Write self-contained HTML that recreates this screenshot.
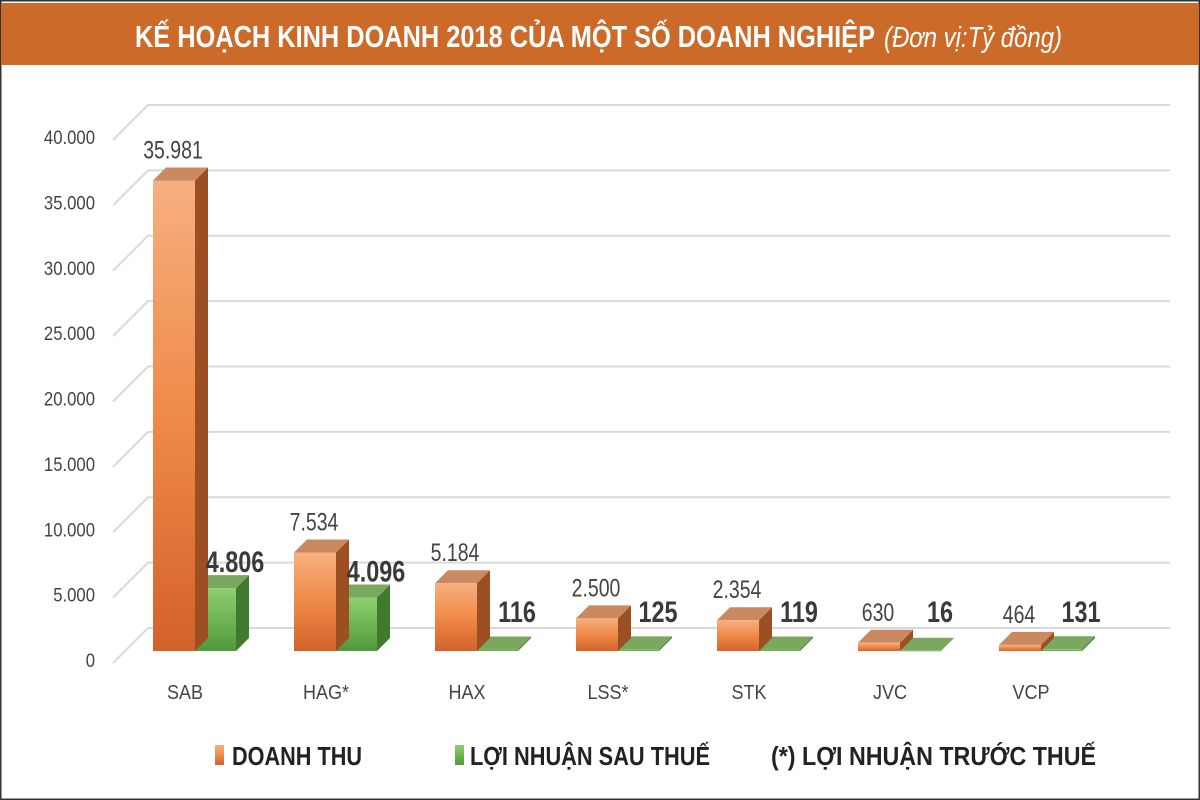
<!DOCTYPE html>
<html><head><meta charset="utf-8"><style>
html,body{margin:0;padding:0;background:#fff;}
#wrap{position:relative;width:1200px;height:800px;overflow:hidden;font-family:"Liberation Sans",sans-serif;}
</style></head><body>
<div id="wrap">
<svg id="chart" width="1200" height="800" viewBox="0 0 1200 800">
<defs>
<linearGradient id="gOr" x1="0" y1="0" x2="0" y2="1"><stop offset="0" stop-color="#f6b080"/><stop offset="0.5" stop-color="#ef8a48"/><stop offset="1" stop-color="#d2622a"/></linearGradient>
<linearGradient id="gGr" x1="0" y1="0" x2="0" y2="1"><stop offset="0" stop-color="#8fcf6f"/><stop offset="1" stop-color="#4f9a3a"/></linearGradient>
</defs>
<rect x="0.5" y="0.5" width="1199" height="799" fill="#fff" stroke="#333" stroke-width="2"/>
<rect x="1" y="3" width="1198" height="62" fill="#cc6a2a"/>
<text x="135" y="47" fill="#fff" font-size="31" font-weight="bold" textLength="740" lengthAdjust="spacingAndGlyphs">KẾ HOẠCH KINH DOANH 2018 CỦA MỘT SỐ DOANH NGHIỆP</text>
<text x="884" y="47" fill="#fff" font-size="29" font-style="italic" textLength="178" lengthAdjust="spacingAndGlyphs">(Đơn vị:Tỷ đồng)</text>
<g id="grid"></g><g id="bars"></g><g id="labels"></g>
<g>
<rect x="215" y="745" width="9" height="20" fill="url(#gOr)"/>
<text x="232" y="765" font-size="26" font-weight="bold" fill="#222" textLength="130" lengthAdjust="spacingAndGlyphs">DOANH THU</text>
<rect x="455" y="745" width="9" height="20" fill="url(#gGr)"/>
<text x="470" y="765" font-size="26" font-weight="bold" fill="#222" textLength="240" lengthAdjust="spacingAndGlyphs">LỢI NHUẬN SAU THUẾ</text>
<text x="771" y="765" font-size="26" font-weight="bold" fill="#222" textLength="325" lengthAdjust="spacingAndGlyphs">(*) LỢI NHUẬN TRƯỚC THUẾ</text>
</g>
</svg>
</div>
<script>
const categories=["SAB","HAG*","HAX","LSS*","STK","JVC","VCP"];
const revenue=[35981,7534,5184,2500,2354,630,464];
const profit=[4806,4096,116,125,119,16,131];
const revenueLabels=["35.981","7.534","5.184","2.500","2.354","630","464"];
const profitLabels=["4.806","4.096","116","125","119","16","131"];
const yTicks=[0,5000,10000,15000,20000,25000,30000,35000,40000];
const yTickLabels=["0","5.000","10.000","15.000","20.000","25.000","30.000","35.000","40.000"];

const NS="http://www.w3.org/2000/svg";
const base=651, yMax=40000, plotH=523, dX=13, dY=13;
function y(v){return base-v*plotH/yMax;}
function xc(i){return 185+i*141;}
function mk(tag,attrs,parent){const e=document.createElementNS(NS,tag);for(const k in attrs)e.setAttribute(k,attrs[k]);parent.appendChild(e);return e;}
const grid=document.getElementById('grid'),bars=document.getElementById('bars'),labels=document.getElementById('labels');
yTicks.forEach((t,i)=>{
  const gy=y(t)-23;
  const l=mk('polyline',{points:`113,${gy+35} 148,${gy} 1170,${gy}`,fill:'none',stroke:'#d9d9d9','stroke-width':2},grid);
  
  
  const tx=mk('text',{x:0,y:0,transform:`translate(95,${y(t)+16}) scale(0.88,1)`,'text-anchor':'end','font-size':19,fill:'#444'},grid);
  tx.textContent=yTickLabels[i];
  
  
});
function bar3d(x0,w,v,front,top,side,name){
  const g=mk('g',{},bars);
  
  
  const yt=y(v);
  mk('polygon',{points:`${x0+w},${yt} ${x0+w+dX},${yt-dY} ${x0+w+dX},${base-dY} ${x0+w},${base}`,fill:side},g);
  mk('polygon',{points:`${x0},${yt} ${x0+dX},${yt-dY} ${x0+w+dX},${yt-dY} ${x0+w},${yt}`,fill:top},g);
  mk('rect',{x:x0,y:yt,width:w,height:Math.max(0.5,base-yt),fill:front},g);
}
categories.forEach((c,i)=>{
  const cx=xc(i);
  bar3d(cx+10,41,profit[i],'url(#gGr)','#7aa85e','#3f7a30','bar-profit-'+c.replace('*','').toLowerCase());
  bar3d(cx-32,42,revenue[i],'url(#gOr)','#c98a62','#9c4f22','bar-revenue-'+c.replace('*','').toLowerCase());
  const t1=mk('text',{x:0,y:0,transform:`translate(${cx-12},${y(revenue[i])-22}) scale(0.78,1)`,'text-anchor':'middle','font-size':25,fill:'#444'},labels);
  t1.textContent=revenueLabels[i];
  
  
  const t2=mk('text',{x:0,y:0,transform:`translate(${cx+50},${Math.min(y(profit[i])-16,622)}) scale(0.78,1)`,'text-anchor':'middle','font-size':30,'font-weight':'bold',fill:'#3a3a3a'},labels);
  t2.textContent=profitLabels[i];
  
  
  const t3=mk('text',{x:0,y:0,transform:`translate(${cx},699) scale(0.9,1)`,'text-anchor':'middle','font-size':20,fill:'#444'},labels);
  t3.textContent=c;
  
  
});
</script>
</body></html>
